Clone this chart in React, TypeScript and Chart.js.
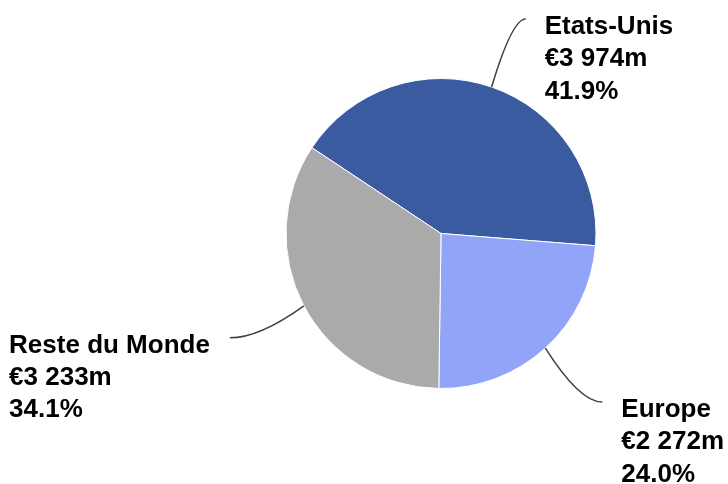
import React, { useEffect, useRef } from "react";
import { Chart, registerables } from "chart.js";

Chart.register(...registerables);

const categories = ["Etats-Unis", "Europe", "Reste du Monde"];
const values = [3974, 2272, 3233];
const valueLabels = ["€3 974m", "€2 272m", "€3 233m"];
const percentLabels = ["41.9%", "24.0%", "34.1%"];
const colors = ["#3A5BA0", "#91A4F7", "#AAAAAA"];

// leader line offsets (from arc edge to line end), per slice
const leaderOffsets = [
  { dx: 34, dy: -68 },
  { dx: 57, dy: 54 },
  { dx: -74, dy: 32 },
];

const labelPlugin = {
  id: "leaderLabels",
  afterDatasetsDraw(chart: any) {
    const ctx = chart.ctx;
    const meta = chart.getDatasetMeta(0);
    const font = "bold 26px 'Liberation Sans', Arial, sans-serif";
    meta.data.forEach((arc: any, i: number) => {
      const { x, y, startAngle, endAngle, outerRadius } = arc.getProps(
        ["x", "y", "startAngle", "endAngle", "outerRadius"],
        true
      );
      const mid = (startAngle + endAngle) / 2;
      const sx = x + Math.cos(mid) * outerRadius;
      const sy = y + Math.sin(mid) * outerRadius;
      const off = leaderOffsets[i];
      const ex = sx + off.dx;
      const ey = sy + off.dy;
      const cx = sx + off.dx * 0.6;
      const cy = ey;
      ctx.save();
      ctx.strokeStyle = "#404040";
      ctx.lineWidth = 1.5;
      ctx.beginPath();
      ctx.moveTo(sx, sy);
      ctx.quadraticCurveTo(cx, cy, ex, ey);
      ctx.stroke();

      ctx.font = font;
      ctx.fillStyle = "#000000";
      ctx.textAlign = "left";
      ctx.textBaseline = "alphabetic";
      const lines = [categories[i], valueLabels[i], percentLabels[i]];
      const maxW = Math.max(...lines.map((l) => ctx.measureText(l).width));
      const right = off.dx >= 0;
      const tx = right ? ex + 19 : ex - 20 - maxW;
      const ty = ey + 15;
      lines.forEach((l, k) => {
        ctx.fillText(l, tx, ty + k * 32.3);
      });
      ctx.restore();
    });
  },
};

export default function App() {
  const canvasRef = useRef<HTMLCanvasElement | null>(null);

  useEffect(() => {
    if (!canvasRef.current) return;
    const chart = new Chart(canvasRef.current, {
      type: "pie",
      data: {
        labels: categories,
        datasets: [
          {
            data: values,
            backgroundColor: colors,
            borderColor: "#ffffff",
            borderWidth: 1,
            hoverOffset: 0,
          },
        ],
      },
      options: {
        animation: false,
        responsive: false,
        rotation: 303.6,
        events: [],
        layout: { padding: { left: 254, right: 100, top: 78, bottom: 95 } },
        plugins: {
          legend: { display: false },
          tooltip: { enabled: false },
        },
      },
      plugins: [labelPlugin],
    });
    return () => chart.destroy();
  }, []);

  return (
    <div style={{ position: "fixed", left: 0, top: 0, width: 728, height: 484, background: "#ffffff" }}>
      <canvas ref={canvasRef} width={728} height={484} style={{ width: 728, height: 484 }} />
    </div>
  );
}
